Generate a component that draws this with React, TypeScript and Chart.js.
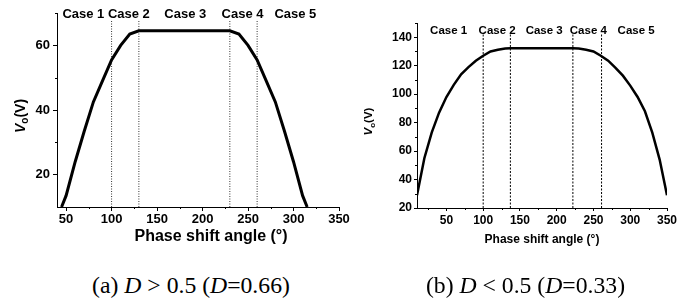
import React, { useEffect, useRef } from "react";
import { Chart, registerables } from "chart.js";
Chart.register(...registerables);

const FONT = "'Liberation Sans', Arial, Helvetica, sans-serif";
const SERIF = "'Liberation Serif', 'Times New Roman', Times, serif";

// ---------- Chart (a): D > 0.5 (D = 0.66) ----------
const phaseA = [45, 50, 60, 70, 80, 90, 100, 110, 120, 130, 230, 240, 250, 260, 270, 280, 290, 300, 310, 315];
const voA = [10, 13.5, 24, 33.5, 42.5, 49, 55.5, 60, 63.5, 64.5, 64.5, 63.5, 60, 55.5, 49, 42.5, 33.5, 24, 13.5, 10];
const caseLinesA = [100, 130, 230, 260];
const caseLineSpanA = [10, 68];
const casePosA = [69, 119, 181, 244, 302];
const xTicksA = [50, 100, 150, 200, 250, 300, 350];
const xMinorA = [75, 125, 175, 225, 275, 325];
const yTicksA = [20, 40, 60];
const yMinorA = [30, 50, 70];

// ---------- Chart (b): D < 0.5 (D = 0.33) ----------
const phaseB = [10, 20, 30, 40, 50, 60, 70, 80, 90, 100, 110, 120, 130, 137, 222, 230, 240, 250, 260, 270, 280, 290, 300, 310, 320, 330, 340, 350];
const voB = [29, 55, 73, 87, 98, 106.5, 114, 119, 123.5, 127, 130, 131.2, 132, 132.3, 132.3, 132, 131.2, 130, 127, 123.5, 118.5, 113, 106, 98, 88, 73, 54, 29];
const caseLinesB = [100, 137, 222, 261];
const caseLineSpanB = [20, 142];
const casePosB = [53, 119, 183, 243, 308];
const xTicksB = [50, 100, 150, 200, 250, 300, 350];
const xMinorB = [25, 75, 125, 175, 225, 275, 325];
const yTicksB = [20, 40, 60, 80, 100, 120, 140];
const yMinorB = [30, 50, 70, 90, 110, 130, 150];

const caseLabels = ["Case 1", "Case 2", "Case 3", "Case 4", "Case 5"];
const xTitle = "Phase shift angle (°)";

const decoPlugin = {
  id: "deco",
  afterDraw(chart: any, _args: any, o: any) {
    const ctx = chart.ctx;
    const xs = chart.scales.x;
    const ys = chart.scales.y;
    const area = chart.chartArea;
    ctx.save();
    // minor ticks
    ctx.strokeStyle = "#000";
    ctx.lineWidth = 1;
    ctx.beginPath();
    for (const v of o.xMinor) {
      const p = Math.round(xs.getPixelForValue(v)) + 0.5;
      ctx.moveTo(p, area.bottom);
      ctx.lineTo(p, area.bottom + o.minorLen);
    }
    for (const v of o.yMinor) {
      const p = Math.round(ys.getPixelForValue(v)) + 0.5;
      ctx.moveTo(area.left, p);
      ctx.lineTo(area.left - o.minorLen, p);
    }
    ctx.stroke();
    // case labels
    ctx.fillStyle = "#000";
    ctx.font = `bold ${o.caseFont}px ${FONT}`;
    ctx.textAlign = "center";
    ctx.textBaseline = "middle";
    o.casePos.forEach((v: number, i: number) => {
      ctx.fillText(caseLabels[i], xs.getPixelForValue(v), o.caseY);
    });
    // x title
    ctx.font = `bold ${o.xTitleFont}px ${FONT}`;
    ctx.fillText(xTitle, o.xTitleX, o.xTitleY);
    // y title: V_o(V)
    ctx.translate(o.yTitleX, o.yTitleY);
    ctx.rotate(-Math.PI / 2);
    const s = o.yTitleFont;
    const fBI = `italic bold ${s}px ${FONT}`;
    const fS = `bold ${Math.round(s * 0.7)}px ${FONT}`;
    const fB = `bold ${s}px ${FONT}`;
    ctx.font = fBI; const wV = ctx.measureText("V").width;
    ctx.font = fS; const wo = ctx.measureText("o").width;
    ctx.font = fB; const wr = ctx.measureText("(V)").width;
    let x = -(wV + wo + wr) / 2;
    ctx.textAlign = "left";
    ctx.font = fBI; ctx.fillText("V", x, 0); x += wV;
    ctx.font = fS; ctx.fillText("o", x, s * 0.3); x += wo;
    ctx.font = fB; ctx.fillText("(V)", x, 0);
    ctx.restore();
  },
};

function makeConfig(p: any): any {
  const datasets: any[] = [
    {
      data: p.xs.map((x: number, i: number) => ({ x, y: p.ys[i] })),
      borderColor: "#000",
      borderWidth: p.curveWidth,
      pointRadius: 0,
      tension: 0,
      fill: false,
    },
    ...p.lines.map((x: number) => ({
      data: [{ x, y: p.lineSpan[0] }, { x, y: p.lineSpan[1] }],
      borderColor: p.lineColor,
      borderWidth: 1,
      borderDash: p.lineDash,
      pointRadius: 0,
      fill: false,
    })),
  ];
  const tickFont = { family: FONT, size: p.tickFont, weight: "bold" };
  return {
    type: "line",
    data: { datasets },
    plugins: [decoPlugin],
    options: {
      responsive: false,
      animation: false,
      devicePixelRatio: 1,
      layout: { padding: p.padding },
      plugins: {
        legend: { display: false },
        tooltip: { enabled: false },
        deco: p.deco,
      },
      scales: {
        x: {
          type: "linear",
          min: p.xMin,
          max: p.xMax,
          afterBuildTicks: (s: any) => { s.ticks = p.xTicks.map((v: number) => ({ value: v })); },
          afterFit: (s: any) => { s.height = p.xHeight; },
          grid: { drawOnChartArea: false, drawTicks: true, tickLength: p.tickLen, color: "#000", tickColor: "#000" },
          border: { display: true, color: "#000", width: 1 },
          ticks: { font: tickFont, color: "#000", padding: p.xPad, maxRotation: 0, autoSkip: false },
        },
        y: {
          type: "linear",
          min: p.yMin,
          max: p.yMax,
          afterBuildTicks: (s: any) => { s.ticks = p.yTicks.map((v: number) => ({ value: v })); },
          afterFit: (s: any) => { s.width = p.yWidth; },
          grid: { drawOnChartArea: false, drawTicks: true, tickLength: p.tickLen, color: "#000", tickColor: "#000" },
          border: { display: true, color: "#000", width: 1 },
          ticks: { font: tickFont, color: "#000", padding: p.yPad, autoSkip: false },
        },
      },
    },
  };
}

const configA = makeConfig({
  xs: phaseA, ys: voA, lines: caseLinesA, lineSpan: caseLineSpanA,
  lineDash: [1, 1.5], lineColor: "#333", curveWidth: 3,
  xMin: 40, xMax: 350, yMin: 10, yMax: 70,
  xTicks: xTicksA, yTicks: yTicksA,
  tickFont: 13, tickLen: 4, xPad: 1, yPad: 3,
  xHeight: 22, yWidth: 57,
  padding: { left: 0, top: 13, right: 13, bottom: 21 },
  deco: {
    xMinor: xMinorA, yMinor: yMinorA, minorLen: 2,
    casePos: casePosA, caseFont: 13, caseY: 14,
    xTitleFont: 16, xTitleX: 211, xTitleY: 237,
    yTitleFont: 14, yTitleX: 21.5, yTitleY: 116,
  },
});

const configB = makeConfig({
  xs: phaseB, ys: voB, lines: caseLinesB, lineSpan: caseLineSpanB,
  lineDash: [2, 1.5], lineColor: "#000", curveWidth: 2.5,
  xMin: 10, xMax: 350, yMin: 20, yMax: 150,
  xTicks: xTicksB, yTicks: yTicksB,
  tickFont: 12, tickLen: 3, xPad: 2, yPad: 2,
  xHeight: 22, yWidth: 69,
  padding: { left: 0, top: 23, right: 29, bottom: 20 },
  deco: {
    xMinor: xMinorB, yMinor: yMinorB, minorLen: 2,
    casePos: casePosB, caseFont: 11.5, caseY: 31,
    xTitleFont: 12, xTitleX: 194, xTitleY: 240,
    yTitleFont: 11.5, yTitleX: 21, yTitleY: 121.5,
  },
});

function ChartBox({ config, left, width, height }: any) {
  const ref = useRef<HTMLCanvasElement>(null);
  useEffect(() => {
    const chart = new Chart(ref.current as HTMLCanvasElement, config);
    return () => chart.destroy();
  }, [config]);
  return (
    <div style={{ position: "absolute", left, top: 0, width, height }}>
      <canvas ref={ref} width={width} height={height} style={{ width, height, display: "block" }} />
    </div>
  );
}

const captionStyle: React.CSSProperties = {
  position: "absolute",
  top: 273,
  width: 300,
  textAlign: "center",
  fontFamily: SERIF,
  fontSize: "23.7px",
  lineHeight: "24px",
  color: "#000",
  whiteSpace: "nowrap",
};

export default function App() {
  return (
    <div style={{ position: "absolute", left: 0, top: 0, width: 696, height: 301, background: "#fff", overflow: "hidden" }}>
      <ChartBox config={configA} left={0} width={352} height={250} />
      <ChartBox config={configB} left={348} width={348} height={250} />
      <div style={{ ...captionStyle, left: 191 - 150 }}>
        (a) <i>D</i> &gt; 0.5 (<i>D</i>=0.66)
      </div>
      <div style={{ ...captionStyle, left: 525.5 - 150 }}>
        (b) <i>D</i> &lt; 0.5 (<i>D</i>=0.33)
      </div>
    </div>
  );
}
